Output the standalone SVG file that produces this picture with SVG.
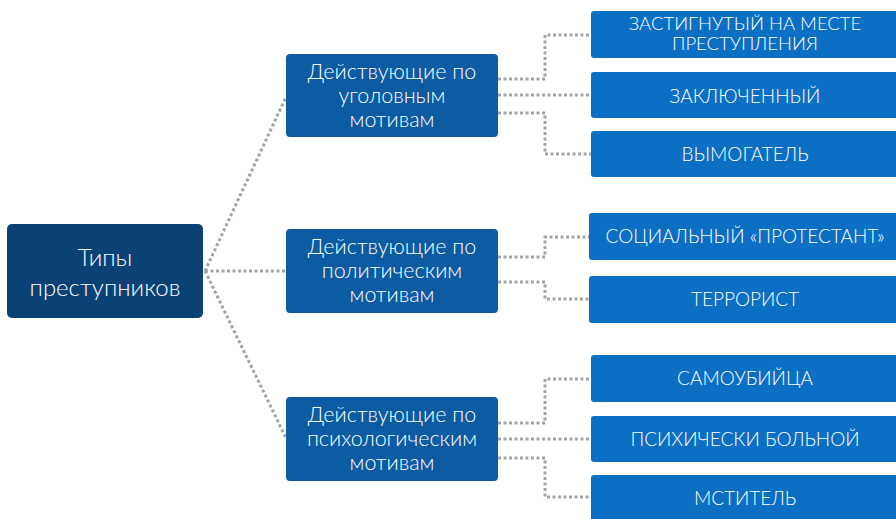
<svg xmlns="http://www.w3.org/2000/svg" width="896" height="519" viewBox="0 0 896 519">
<style>
.root{fill:#0b4276}
.mid{fill:#0c5ba3}
.leaf{fill:#0b6fc4}
text{font-family:Lato,"Noto Sans",sans-serif;fill:#fff;text-anchor:middle;font-weight:300}
.rt{font-size:24px}
.mt{font-size:21.5px}
.lt{font-size:19px}
.lt1{font-size:18.5px}
.c{fill:none;stroke:#a3a3a3;stroke-width:3;stroke-dasharray:3 2.5}
</style>
<rect width="896" height="519" fill="#fff"/>
<g id="connectors">
<path class="c" d="M205 271 L286 97"/>
<path class="c" d="M205 271 H286"/>
<path class="c" d="M205 271 L286 438"/>
<path class="c" d="M498 79 H545 V35 H591"/>
<path class="c" d="M498 95 H591"/>
<path class="c" d="M498 113 H545 V154 H591"/>
<path class="c" d="M498 257 H545 V237 H589"/>
<path class="c" d="M498 282 H545 V299 H589"/>
<path class="c" d="M498 423 H545 V379 H591"/>
<path class="c" d="M498 439 H591"/>
<path class="c" d="M498 458 H545 V497 H591"/>
</g>
<g id="root">
<rect class="root" x="7" y="224" width="196" height="94" rx="5"/>
<text class="rt" x="105" y="266">Типы</text>
<text class="rt" x="105" y="296">преступников</text>
</g>
<g id="mid1">
<rect class="mid" x="286" y="54" width="212" height="83" rx="4"/>
<text class="mt" x="392" y="79">Действующие по</text>
<text class="mt" x="392" y="103">уголовным</text>
<text class="mt" x="392" y="127">мотивам</text>
</g>
<g id="mid2">
<rect class="mid" x="286" y="229" width="212" height="84" rx="4"/>
<text class="mt" x="392" y="254">Действующие по</text>
<text class="mt" x="392" y="278">политическим</text>
<text class="mt" x="392" y="302">мотивам</text>
</g>
<g id="mid3">
<rect class="mid" x="286" y="397" width="212" height="84" rx="4"/>
<text class="mt" x="392" y="422">Действующие по</text>
<text class="mt" x="392" y="446">психологическим</text>
<text class="mt" x="392" y="470">мотивам</text>
</g>
<g id="leaf1">
<rect class="leaf" x="591" y="11" width="320" height="47" rx="3"/>
<text class="lt1" x="745" y="30">ЗАСТИГНУТЫЙ НА МЕСТЕ</text>
<text class="lt1" x="745" y="50">ПРЕСТУПЛЕНИЯ</text>
</g>
<g id="leaf2">
<rect class="leaf" x="591" y="72" width="320" height="46" rx="3"/>
<text class="lt" x="745" y="103">ЗАКЛЮЧЕННЫЙ</text>
</g>
<g id="leaf3">
<rect class="leaf" x="591" y="131" width="320" height="46" rx="3"/>
<text class="lt" x="745" y="161">ВЫМОГАТЕЛЬ</text>
</g>
<g id="leaf4">
<rect class="leaf" x="589" y="213" width="320" height="47" rx="3"/>
<text class="lt" x="745" y="243">СОЦИАЛЬНЫЙ «ПРОТЕСТАНТ»</text>
</g>
<g id="leaf5">
<rect class="leaf" x="589" y="276" width="320" height="47" rx="3"/>
<text class="lt" x="745" y="306">ТЕРРОРИСТ</text>
</g>
<g id="leaf6">
<rect class="leaf" x="591" y="355" width="320" height="47" rx="3"/>
<text class="lt" x="745" y="385">САМОУБИЙЦА</text>
</g>
<g id="leaf7">
<rect class="leaf" x="591" y="416" width="320" height="46" rx="3"/>
<text class="lt" x="745" y="446">ПСИХИЧЕСКИ БОЛЬНОЙ</text>
</g>
<g id="leaf8">
<rect class="leaf" x="591" y="475" width="320" height="60" rx="3"/>
<text class="lt" x="745" y="505">МСТИТЕЛЬ</text>
</g>
</svg>
